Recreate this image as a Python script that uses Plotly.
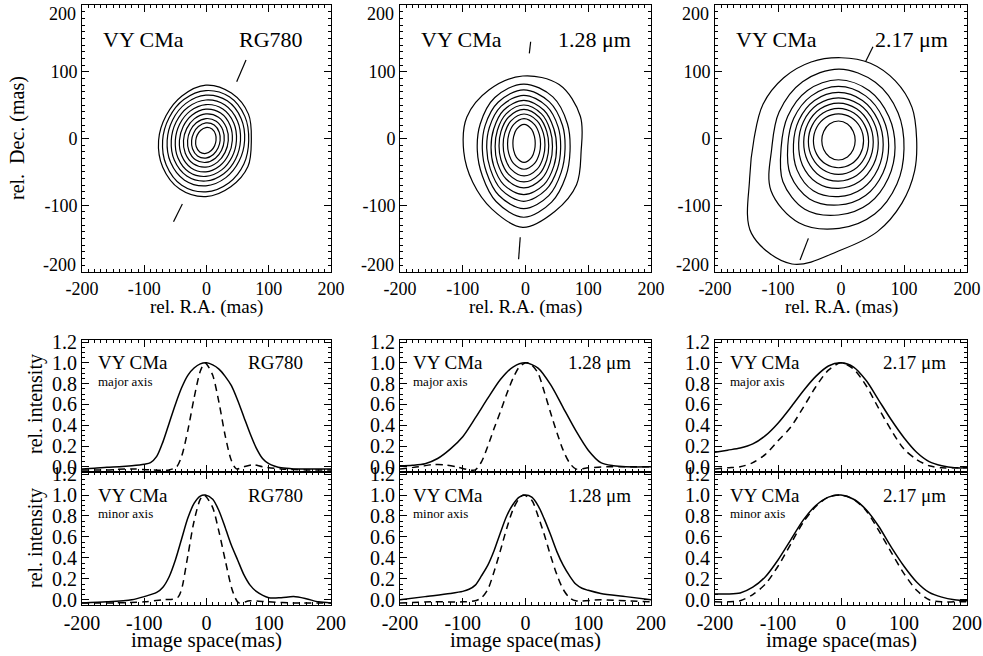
import numpy as np
import plotly.graph_objects as go

W, H = 983, 656
FONT = "Liberation Serif, Times New Roman, serif"

# ---------------- contour outlines
# each contour: centre (mas) and radii (mas) at equally spaced angles from +x, counter-clockwise
rg780_centres = [(-1, -3)] * 10
rg780_radii = [
    [16.3, 18.0, 19.8, 19.4, 17.3, 16.1, 16.3, 18.0, 19.8, 19.4, 17.3, 16.1],
    [22.9, 24.8, 26.8, 26.3, 24.1, 22.6, 22.9, 24.8, 26.8, 26.3, 24.1, 22.6],
    [29.4, 31.4, 33.3, 32.9, 30.6, 29.1, 29.4, 31.4, 33.3, 32.9, 30.6, 29.1],
    [36.0, 38.2, 40.4, 39.9, 37.4, 35.6, 36.0, 38.2, 40.4, 39.9, 37.4, 35.6],
    [42.5, 45.0, 47.4, 46.9, 44.1, 42.1, 42.5, 45.0, 47.4, 46.9, 44.1, 42.1],
    [49.1, 51.9, 54.5, 53.8, 50.8, 48.7, 49.1, 51.9, 54.5, 53.8, 50.8, 48.7],
    [55.6, 58.6, 61.4, 60.7, 57.5, 55.2, 55.6, 58.6, 61.4, 60.7, 57.5, 55.2],
    [62.2, 65.5, 68.6, 67.9, 64.2, 61.7, 62.2, 65.5, 68.6, 67.9, 64.2, 61.7],
    [68.8, 72.3, 75.5, 74.8, 70.9, 68.2, 69.5, 73.5, 77.5, 77.0, 73.5, 70.5],
    [73.0, 79.0, 82.0, 83.0, 77.0, 74.0, 76.0, 80.0, 84.0, 84.0, 80.0, 78.0],
]
j128_centres = [(-2.3, -7.3), (-2.3, -8.2), (-2.3, -9.7), (-2.6, -10.7), (-2.7, -11.9),
                (-2.7, -13.4), (-2.9, -14.7), (-2.9, -16.2), (-2.9, -18.2), (-4.4, -19.7)]
j128_radii = [
    [17.8, 19.3, 24.2, 28.5, 24.2, 19.3, 17.8, 19.3, 24.2, 28.5, 24.2, 19.3],
    [26.3, 28.2, 33.6, 37.9, 33.6, 28.2, 26.3, 28.2, 33.6, 37.9, 33.6, 28.2],
    [33.3, 35.5, 41.8, 46.4, 41.8, 35.5, 33.3, 35.5, 41.8, 46.4, 41.8, 35.5],
    [39.6, 42.2, 49.2, 54.4, 49.2, 42.2, 39.6, 42.2, 49.2, 54.4, 49.2, 42.2],
    [45.7, 48.6, 56.4, 62.1, 56.4, 48.6, 45.7, 48.6, 56.4, 62.1, 56.4, 48.6],
    [52.2, 55.4, 64.3, 70.6, 64.3, 55.4, 52.2, 55.4, 64.3, 70.6, 64.3, 55.4],
    [58.9, 63.5, 73.0, 79.4, 72.5, 63.0, 58.9, 61.5, 71.5, 79.4, 71.5, 62.0],
    [65.9, 71.5, 82.0, 88.9, 81.5, 71.0, 65.9, 68.5, 79.5, 88.9, 80.0, 69.0],
    [73.9, 80.5, 93.0, 99.8, 92.0, 80.0, 73.9, 76.0, 88.0, 99.8, 89.0, 77.5],
    [93.0, 106.0, 116.0, 113.3, 107.0, 103.0, 94.0, 92.0, 99.0, 113.3, 103.0, 99.0],
]
k217_centres = [(-4, -3), (-4, -3.4), (-4, -4.4), (-4, -5.4), (-4, -6.9),
                (-4, -9), (-4, -10.8), (-4, -13.3), (-3, -15.3), (0, 0)]
k217_radii = [
    [26.5, 27.1, 28.5, 29.2, 28.5, 27.1, 26.5, 27.1, 28.5, 29.2, 28.5, 27.1],
    [39.8, 40.0, 40.3, 40.4, 40.3, 40.0, 39.8, 40.0, 40.3, 40.4, 40.3, 40.0],
    [47.8, 48.2, 49.0, 49.4, 49.0, 48.2, 47.8, 48.2, 49.0, 49.4, 49.0, 48.2],
    [55.2, 56.0, 57.6, 58.4, 57.6, 56.0, 55.2, 56.5, 58.5, 58.4, 57.6, 56.0],
    [63.2, 64.3, 66.6, 67.9, 66.6, 64.3, 63.2, 66.0, 68.5, 67.9, 66.6, 64.3],
    [71.0, 72.6, 76.1, 78.0, 76.1, 72.6, 71.5, 76.0, 80.0, 78.0, 76.1, 72.6],
    [79.7, 81.7, 86.2, 88.8, 86.2, 82.0, 80.5, 88.0, 92.0, 88.8, 86.0, 81.5],
    [89.8, 92.3, 98.0, 101.3, 98.5, 93.0, 91.0, 102.0, 107.0, 101.3, 97.0, 91.5],
    [103.0, 108.0, 115.0, 119.3, 116.0, 110.0, 107.0, 125.0, 128.0, 119.3, 113.0, 106.0],
    [120, 122, 122, 122, 121, 124, 128.6, 134, 138, 157, 201, 203.5, 167, 151, 136.8, 126.5],
]

# position-angle markers (mas)
rg780_pa = [([48.5, 63.5], [85, 117.6]), ([-38.8, -53], [-98, -124.6])]
j128_pa = [([6.1, 8.2], [127.6, 145]), ([-8.4, -11], [-148, -181])]
k217_pa = [([39, 50.7], [115, 137.6]), ([-51.8, -65], [-149.6, -182])]

# ---------------- intensity profiles
rg780_maj_solid_x = [-200, -180, -160, -140, -120, -100, -90, -80, -70, -60, -50, -40, -30, -20, -10, 0, 10, 20, 30, 40, 50, 60, 70, 80, 90, 100, 110, 120, 140, 160, 180, 200]
rg780_maj_solid_y = [-0.02, -0.015, -0.005, 0.0, 0.01, 0.025, 0.04, 0.1, 0.24, 0.42, 0.6, 0.76, 0.88, 0.95, 0.99, 1.0, 0.98, 0.94, 0.87, 0.78, 0.64, 0.48, 0.32, 0.18, 0.08, 0.03, 0.005, -0.01, -0.02, -0.02, -0.02, -0.02]
rg780_maj_dash_x = [-200, -160, -120, -90, -60, -48, -40, -30, -20, -10, -3, 0, 10, 20, 30, 40, 48, 60, 75, 90, 120, 160, 200]
rg780_maj_dash_y = [-0.03, -0.03, -0.02, -0.03, -0.03, 0.0, 0.1, 0.35, 0.66, 0.92, 1.0, 0.99, 0.88, 0.62, 0.3, 0.06, -0.02, 0.0, 0.02, 0.0, -0.02, -0.03, -0.03]
rg780_min_solid_x = [-200, -160, -120, -100, -80, -70, -60, -50, -40, -30, -20, -10, -2, 10, 20, 30, 40, 50, 60, 70, 80, 100, 120, 140, 160, 180, 200]
rg780_min_solid_y = [-0.03, -0.02, 0.0, 0.03, 0.07, 0.12, 0.22, 0.38, 0.58, 0.78, 0.92, 0.99, 1.0, 0.96, 0.85, 0.69, 0.52, 0.38, 0.24, 0.14, 0.08, 0.02, 0.02, 0.03, 0.01, -0.02, -0.03]
rg780_min_dash_x = [-200, -150, -100, -70, -50, -45, -40, -30, -20, -10, -4, 0, 10, 20, 30, 40, 46, 52, 70, 100, 140, 200]
rg780_min_dash_y = [-0.03, -0.03, -0.02, 0.0, 0.01, 0.03, 0.1, 0.42, 0.75, 0.96, 1.0, 0.98, 0.88, 0.65, 0.38, 0.12, 0.02, -0.03, -0.01, -0.02, -0.03, -0.03]

j128_maj_solid_x = [-200, -180, -160, -140, -120, -100, -80, -60, -40, -20, 0, 20, 40, 60, 80, 100, 120, 140, 160, 200]
j128_maj_solid_y = [0.01, 0.015, 0.03, 0.08, 0.17, 0.29, 0.47, 0.66, 0.84, 0.96, 1.0, 0.95, 0.79, 0.57, 0.35, 0.16, 0.04, 0.01, 0.0, 0.0]
j128_maj_dash_x = [-200, -170, -150, -130, -110, -90, -80, -70, -60, -50, -40, -30, -20, -10, 0, 5, 10, 20, 30, 40, 50, 60, 70, 80, 100, 130, 160, 200]
j128_maj_dash_y = [-0.02, 0.0, 0.02, 0.02, 0.0, -0.03, -0.03, 0.05, 0.2, 0.37, 0.53, 0.7, 0.85, 0.96, 1.0, 1.0, 0.98, 0.9, 0.72, 0.52, 0.33, 0.16, 0.04, -0.02, -0.01, 0.0, 0.0, 0.0]
j128_min_solid_x = [-200, -160, -120, -100, -90, -80, -70, -60, -50, -40, -30, -20, -10, 0, 10, 20, 30, 40, 50, 60, 70, 80, 90, 100, 120, 160, 200]
j128_min_solid_y = [0.0, 0.03, 0.06, 0.08, 0.1, 0.14, 0.23, 0.33, 0.47, 0.64, 0.8, 0.91, 0.98, 1.0, 0.98, 0.9, 0.77, 0.62, 0.46, 0.33, 0.23, 0.15, 0.11, 0.09, 0.06, 0.03, 0.0]
j128_min_dash_x = [-200, -150, -100, -80, -70, -60, -50, -40, -30, -20, -10, -3, 10, 20, 30, 40, 50, 60, 70, 80, 120, 160, 200]
j128_min_dash_y = [-0.03, -0.02, -0.02, -0.01, 0.02, 0.1, 0.27, 0.47, 0.68, 0.86, 0.97, 1.0, 0.95, 0.8, 0.62, 0.42, 0.24, 0.1, 0.02, -0.01, 0.0, -0.01, -0.02]

k217_x = [-200, -180, -160, -140, -120, -100, -80, -60, -40, -20, 0, 20, 40, 60, 80, 100, 120, 140, 160, 180, 200]
k217_maj_solid_y = [0.14, 0.16, 0.18, 0.22, 0.3, 0.42, 0.57, 0.73, 0.87, 0.97, 1.0, 0.96, 0.83, 0.64, 0.45, 0.28, 0.14, 0.05, 0.01, -0.01, -0.01]
k217_maj_dash_y = [-0.02, -0.01, 0.0, 0.04, 0.12, 0.25, 0.38, 0.57, 0.77, 0.93, 1.0, 0.94, 0.78, 0.56, 0.35, 0.17, 0.07, 0.01, -0.01, -0.01, -0.01]
k217_min_solid_y = [0.055, 0.055, 0.065, 0.12, 0.22, 0.38, 0.57, 0.76, 0.9, 0.98, 1.0, 0.96, 0.86, 0.7, 0.5, 0.32, 0.17, 0.07, 0.025, 0.0, -0.01]
k217_min_dash_y = [-0.02, -0.02, -0.01, 0.05, 0.15, 0.32, 0.53, 0.74, 0.89, 0.98, 1.0, 0.96, 0.85, 0.66, 0.45, 0.25, 0.09, 0.0, -0.02, -0.02, -0.02]

band_labels = ["RG780", "1.28 μm", "2.17 μm"]
xy_ticks = [-200, -100, 0, 100, 200]
xy_ticktext = ["-200", "-100", "0", "100", "200"]
dec_ticktext = ["", "-100", "0", "100", ""]   # the +-200 labels sit inset from the frame corners
int_ticks = [0.0, 0.2, 0.4, 0.6, 0.8, 1.0, 1.2]
int_ticktext = ["0.0", "0.2", "0.4", "0.6", "0.8", "1.0", "1.2"]

# ---------------- layout geometry (pixels)
cols = [(82, 331), (400, 651), (715, 967)]
rows = {"top": (5, 272), "maj": (340, 472), "min": (472, 605)}


def xdom(c):
    return [c[0] / W, c[1] / W]


def ydom(r):
    return [1 - r[1] / H, 1 - r[0] / H]


fig = go.Figure()
axis_common = dict(showline=True, linecolor="black", linewidth=1, mirror="ticks",
                   ticks="inside", ticklen=7, tickwidth=1, tickcolor="black", automargin=False,
                   ticklabeloverflow="allow", showgrid=False, zeroline=False, fixedrange=True)

contours = [(rg780_centres, rg780_radii), (j128_centres, j128_radii), (k217_centres, k217_radii)]
pas = [rg780_pa, j128_pa, k217_pa]
profiles = [
    ((rg780_maj_solid_x, rg780_maj_solid_y), (rg780_maj_dash_x, rg780_maj_dash_y),
     (rg780_min_solid_x, rg780_min_solid_y), (rg780_min_dash_x, rg780_min_dash_y)),
    ((j128_maj_solid_x, j128_maj_solid_y), (j128_maj_dash_x, j128_maj_dash_y),
     (j128_min_solid_x, j128_min_solid_y), (j128_min_dash_x, j128_min_dash_y)),
    ((k217_x, k217_maj_solid_y), (k217_x, k217_maj_dash_y),
     (k217_x, k217_min_solid_y), (k217_x, k217_min_dash_y)),
]

annotations = []
layout_axes = {}
for i in range(3):
    # ---- top contour panel
    n = i + 1
    xa, ya = f"x{n if n > 1 else ''}", f"y{n if n > 1 else ''}"
    centres, radii_list = contours[i]
    for (c0, c1), radii in zip(centres, radii_list):
        ang = np.deg2rad(np.arange(len(radii)) * 360.0 / len(radii))
        r = np.array(radii, dtype=float)
        cx = c0 + np.append(r * np.cos(ang), r[0])
        cy = c1 + np.append(r * np.sin(ang), 0.0)
        fig.add_trace(go.Scatter(x=cx, y=cy, mode="lines", xaxis=xa, yaxis=ya,
                                 line=dict(color="black", width=1.2, shape="spline", smoothing=1.0),
                                 showlegend=False, hoverinfo="skip"))
    for (px, py) in pas[i]:
        fig.add_trace(go.Scatter(x=px, y=py, mode="lines", xaxis=xa, yaxis=ya,
                                 line=dict(color="black", width=1.2), showlegend=False, hoverinfo="skip"))
    layout_axes[f"xaxis{n if n > 1 else ''}"] = dict(axis_common, domain=xdom(cols[i]), anchor=ya,
                                                     range=[-200, 200], tickvals=xy_ticks, ticktext=xy_ticktext,
                                                     minor=dict(ticks="inside", ticklen=3, dtick=10, tickcolor="black"),
                                                     tickfont=dict(family=FONT, size=18, color="black"))
    layout_axes[f"yaxis{n if n > 1 else ''}"] = dict(axis_common, domain=ydom(rows["top"]), anchor=xa,
                                                     range=[-200, 200], tickvals=xy_ticks, ticktext=dec_ticktext,
                                                     minor=dict(ticks="inside", ticklen=3, dtick=10, tickcolor="black"),
                                                     tickfont=dict(family=FONT, size=18, color="black"))
    for lab, ypx in (("200", 13.5), ("-200", 264.5)):
        annotations.append(dict(x=(cols[i][0] - 4) / W, y=1 - ypx / H, xref="paper", yref="paper", text=lab,
                                showarrow=False, xanchor="right", yanchor="middle",
                                font=dict(family=FONT, size=18, color="black")))
    annotations.append(dict(x=-170, y=148, xref=xa, yref=ya, text="VY CMa", showarrow=False,
                            xanchor="left", yanchor="middle", font=dict(family=FONT, size=22, color="black")))
    annotations.append(dict(x=[158, 171, 173][i], y=148, xref=xa, yref=ya, text=band_labels[i], showarrow=False,
                            xanchor="right", yanchor="middle", font=dict(family=FONT, size=22, color="black")))
    annotations.append(dict(x=(cols[i][0] + cols[i][1]) / 2 / W, y=1 - 307 / H, xref="paper", yref="paper",
                            text="rel. R.A. (mas)", showarrow=False, xanchor="center", yanchor="middle",
                            font=dict(family=FONT, size=19, color="black")))

    # ---- profile panels
    for k, (rowname, label2) in enumerate([("maj", "major axis"), ("min", "minor axis")]):
        m = 4 + i + 3 * k
        xa, ya = f"x{m}", f"y{m}"
        solid = profiles[i][2 * k]
        dash = profiles[i][2 * k + 1]
        fig.add_trace(go.Scatter(x=solid[0], y=solid[1], mode="lines", xaxis=xa, yaxis=ya,
                                 line=dict(color="black", width=1.5, shape="spline", smoothing=0.8),
                                 showlegend=False, hoverinfo="skip"))
        fig.add_trace(go.Scatter(x=dash[0], y=dash[1], mode="lines", xaxis=xa, yaxis=ya,
                                 line=dict(color="black", width=1.5, dash="7px,5px", shape="spline", smoothing=0.8),
                                 showlegend=False, hoverinfo="skip"))
        layout_axes[f"xaxis{m}"] = dict(axis_common, domain=xdom(cols[i]), anchor=ya, range=[-200, 200],
                                        tickvals=xy_ticks, ticktext=xy_ticktext, showticklabels=(k == 1),
                                        minor=dict(ticks="inside", ticklen=3, dtick=10, tickcolor="black"),
                                        tickfont=dict(family=FONT, size=20, color="black"))
        layout_axes[f"yaxis{m}"] = dict(axis_common, domain=ydom(rows[rowname]), anchor=xa, range=[-0.05, 1.22],
                                        tickvals=int_ticks, ticktext=int_ticktext,
                                        minor=dict(ticks="inside", ticklen=3, dtick=0.05, tickcolor="black"),
                                        tickfont=dict(family=FONT, size=20, color="black"))
        annotations.append(dict(x=[-177, -182, -180][i], y=1.0, xref=xa, yref=ya, text="VY CMa", showarrow=False,
                                xanchor="left", yanchor="middle", font=dict(family=FONT, size=19, color="black")))
        annotations.append(dict(x=[-177, -182, -180][i], y=0.82, xref=xa, yref=ya, text=label2, showarrow=False,
                                xanchor="left", yanchor="middle", font=dict(family=FONT, size=13, color="black")))
        annotations.append(dict(x=[158, 171, 170][i], y=1.0, xref=xa, yref=ya, text=band_labels[i], showarrow=False,
                                xanchor="right", yanchor="middle", font=dict(family=FONT, size=19, color="black")))
        if i == 0:
            annotations.append(dict(x=35 / W, y=1 - [404, 538][k] / H, xref="paper", yref="paper",
                                    text="rel. intensity", showarrow=False, textangle=-90,
                                    xanchor="center", yanchor="middle", font=dict(family=FONT, size=20, color="black")))
    annotations.append(dict(x=(cols[i][0] + cols[i][1]) / 2 / W, y=1 - 640 / H, xref="paper", yref="paper",
                            text="image space(mas)", showarrow=False, xanchor="center", yanchor="middle",
                            font=dict(family=FONT, size=21, color="black")))

annotations.append(dict(x=18 / W, y=1 - 138 / H, xref="paper", yref="paper", text="rel.  Dec. (mas)",
                        showarrow=False, textangle=-90, xanchor="center", yanchor="middle",
                        font=dict(family=FONT, size=20, color="black")))

fig.update_layout(template="none", width=W, height=H, margin=dict(l=0, r=0, t=0, b=0), paper_bgcolor="white",
                  plot_bgcolor="white", showlegend=False, annotations=annotations, **layout_axes)
fig.write_html("out.html", config={"displayModeBar": False},
               post_script="document.body.style.margin='0';")
